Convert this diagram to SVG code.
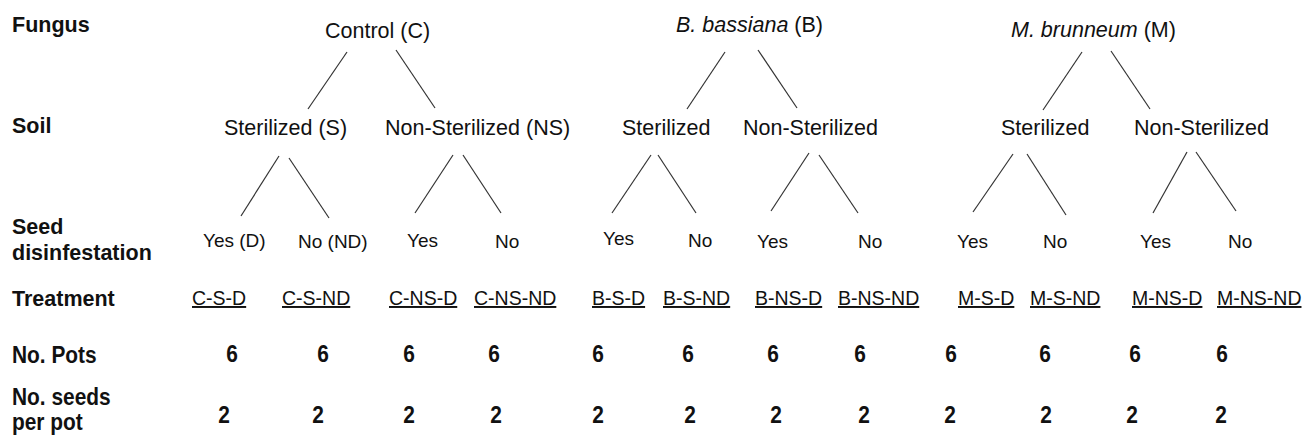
<svg xmlns="http://www.w3.org/2000/svg" width="1304" height="435" viewBox="0 0 1304 435">
<style>
.lbl{font-family:"Liberation Sans",Arial,sans-serif;font-weight:bold;font-size:21.5px;fill:#111}
.nar{font-family:"Liberation Sans",Arial,sans-serif;font-weight:bold;font-size:24px;fill:#111}
.t1{font-family:"Liberation Sans",Arial,sans-serif;font-size:21.5px;fill:#111}
.t2{font-family:"Liberation Sans",Arial,sans-serif;font-size:19px;fill:#111}
.tr{font-family:"Liberation Sans",Arial,sans-serif;font-size:19.5px;fill:#111;text-decoration:underline}
.num{text-anchor:middle}
.edge{stroke:#333;stroke-width:1.2;fill:none}
</style>
<rect width="1304" height="435" fill="#fff"/>
<g id="row-labels">
<text class="lbl" x="12" y="32">Fungus</text>
<text class="lbl" x="12" y="133">Soil</text>
<text class="lbl" x="12" y="234">Seed</text>
<text class="lbl" x="12" y="260">disinfestation</text>
<text class="lbl" x="12" y="306">Treatment</text>
<text class="nar" transform="translate(12,363) scale(0.87,1)">No. Pots</text>
<text class="nar" transform="translate(12,405) scale(0.87,1)">No. seeds</text>
<text class="nar" transform="translate(12,430) scale(0.87,1)">per pot</text>
</g>
<g id="fungus">
<g id="n-C"><text class="t1" x="325" y="38">Control (C)</text></g>
<g id="n-B"><text class="t1" x="676" y="32"><tspan font-style="italic">B. bassiana</tspan> (B)</text></g>
<g id="n-M"><text class="t1" x="1011" y="37"><tspan font-style="italic">M. brunneum</tspan> (M)</text></g>
</g>
<g id="soil">
<g id="n-C-S"><text class="t1" x="224" y="135">Sterilized (S)</text></g>
<g id="n-C-NS"><text class="t1" x="385" y="135">Non-Sterilized (NS)</text></g>
<g id="n-B-S"><text class="t1" x="622" y="135">Sterilized</text></g>
<g id="n-B-NS"><text class="t1" x="743" y="135">Non-Sterilized</text></g>
<g id="n-M-S"><text class="t1" x="1001" y="135">Sterilized</text></g>
<g id="n-M-NS"><text class="t1" x="1134" y="135">Non-Sterilized</text></g>
</g>
<g id="disinfestation">
<g id="n-C-S-D"><text class="t2" x="203" y="247">Yes (D)</text></g>
<g id="n-C-S-ND"><text class="t2" x="298" y="248">No (ND)</text></g>
<g id="n-C-NS-D"><text class="t2" x="407" y="247">Yes</text></g>
<g id="n-C-NS-ND"><text class="t2" x="495" y="248">No</text></g>
<g id="n-B-S-D"><text class="t2" x="603" y="245">Yes</text></g>
<g id="n-B-S-ND"><text class="t2" x="688" y="247">No</text></g>
<g id="n-B-NS-D"><text class="t2" x="757" y="248">Yes</text></g>
<g id="n-B-NS-ND"><text class="t2" x="858" y="248">No</text></g>
<g id="n-M-S-D"><text class="t2" x="957" y="248">Yes</text></g>
<g id="n-M-S-ND"><text class="t2" x="1043" y="248">No</text></g>
<g id="n-M-NS-D"><text class="t2" x="1140" y="248">Yes</text></g>
<g id="n-M-NS-ND"><text class="t2" x="1228" y="248">No</text></g>
</g>
<g id="treatments">
<text class="tr" x="192" y="305">C-S-D</text>
<text class="tr" x="282" y="305">C-S-ND</text>
<text class="tr" x="389" y="305">C-NS-D</text>
<text class="tr" x="474" y="305">C-NS-ND</text>
<text class="tr" x="592" y="305">B-S-D</text>
<text class="tr" x="663" y="305">B-S-ND</text>
<text class="tr" x="755" y="305">B-NS-D</text>
<text class="tr" x="838" y="305">B-NS-ND</text>
<text class="tr" x="958" y="305">M-S-D</text>
<text class="tr" x="1030" y="305">M-S-ND</text>
<text class="tr" x="1132" y="305">M-NS-D</text>
<text class="tr" x="1217" y="305">M-NS-ND</text>
</g>
<g id="pots">
<text class="nar num" transform="translate(232,362) scale(0.87,1)">6</text>
<text class="nar num" transform="translate(323,362) scale(0.87,1)">6</text>
<text class="nar num" transform="translate(409,362) scale(0.87,1)">6</text>
<text class="nar num" transform="translate(494,362) scale(0.87,1)">6</text>
<text class="nar num" transform="translate(598,362) scale(0.87,1)">6</text>
<text class="nar num" transform="translate(688,362) scale(0.87,1)">6</text>
<text class="nar num" transform="translate(773,362) scale(0.87,1)">6</text>
<text class="nar num" transform="translate(860,362) scale(0.87,1)">6</text>
<text class="nar num" transform="translate(951,362) scale(0.87,1)">6</text>
<text class="nar num" transform="translate(1045,362) scale(0.87,1)">6</text>
<text class="nar num" transform="translate(1135,362) scale(0.87,1)">6</text>
<text class="nar num" transform="translate(1222,362) scale(0.87,1)">6</text>
</g>
<g id="seeds">
<text class="nar num" transform="translate(224,423) scale(0.87,1)">2</text>
<text class="nar num" transform="translate(318,423) scale(0.87,1)">2</text>
<text class="nar num" transform="translate(409,423) scale(0.87,1)">2</text>
<text class="nar num" transform="translate(496,423) scale(0.87,1)">2</text>
<text class="nar num" transform="translate(598,423) scale(0.87,1)">2</text>
<text class="nar num" transform="translate(690,423) scale(0.87,1)">2</text>
<text class="nar num" transform="translate(776,423) scale(0.87,1)">2</text>
<text class="nar num" transform="translate(864,423) scale(0.87,1)">2</text>
<text class="nar num" transform="translate(950,423) scale(0.87,1)">2</text>
<text class="nar num" transform="translate(1046,423) scale(0.87,1)">2</text>
<text class="nar num" transform="translate(1132,423) scale(0.87,1)">2</text>
<text class="nar num" transform="translate(1221,423) scale(0.87,1)">2</text>
</g>
<g id="connectors" class="edge">
<line x1="347" y1="52" x2="308" y2="109"/>
<line x1="396" y1="50" x2="435" y2="108"/>
<line x1="725" y1="52" x2="687" y2="109"/>
<line x1="758" y1="50" x2="797" y2="108"/>
<line x1="1082" y1="52" x2="1043" y2="110"/>
<line x1="1111" y1="51" x2="1150" y2="109"/>
<line x1="279" y1="156" x2="241" y2="216"/>
<line x1="289" y1="158" x2="329" y2="218"/>
<line x1="453" y1="155" x2="415" y2="213"/>
<line x1="463" y1="155" x2="501" y2="213"/>
<line x1="651" y1="155" x2="612" y2="213"/>
<line x1="658" y1="155" x2="696" y2="213"/>
<line x1="809" y1="153" x2="771" y2="211"/>
<line x1="819" y1="155" x2="858" y2="213"/>
<line x1="1013" y1="154" x2="973" y2="212"/>
<line x1="1027" y1="154" x2="1066" y2="215"/>
<line x1="1187" y1="152" x2="1153" y2="213"/>
<line x1="1196" y1="152" x2="1236" y2="211"/>
</g>
</svg>
